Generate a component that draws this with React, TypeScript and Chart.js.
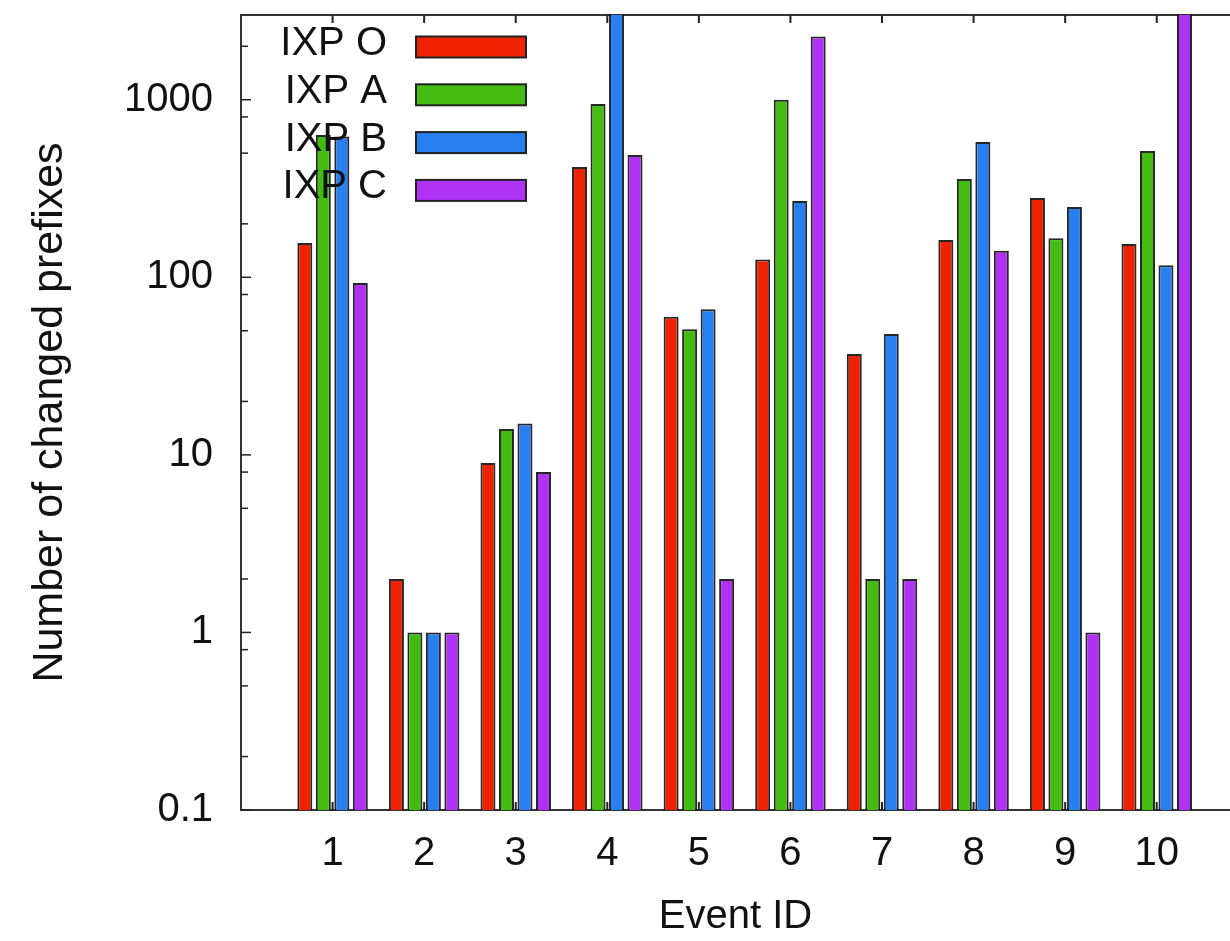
import React, { useEffect, useRef } from 'react';
import { Chart, registerables } from 'chart.js';

Chart.register(...registerables);

// ---- data ----
const eventIds = [1, 2, 3, 4, 5, 6, 7, 8, 9, 10];
const seriesLabels = ['IXP O', 'IXP A', 'IXP B', 'IXP C'];
const ixpO = [156, 2, 9, 418, 60, 126, 37, 162, 280, 154];
const ixpA = [633, 1, 14, 946, 51, 1000, 2, 358, 166, 515];
const ixpB = [620, 1, 15, 3200, 66, 269, 48, 578, 249, 117];
const ixpC = [93, 1, 8, 489, 2, 2272, 2, 141, 1, 3200];
const yMajorTicks = [0.1, 1, 10, 100, 1000];
const yMinorMultipliers = [2, 5, 8];
const yMin = 0.1;
const yMax = 3000;
const xMin = 0;
const xMax = 10.8;

const seriesValues = [ixpO, ixpA, ixpB, ixpC];
const seriesColors = ['#ee2200', '#44bb11', '#2a7ff0', '#b033f5'];

const FONT = '"Liberation Sans", Arial, Helvetica, sans-serif';

const framePlugin = {
  id: 'frameTicksLegend',
  afterDatasetsDraw(chart: any) {
    const { ctx, chartArea: a, scales } = chart;
    const ys = scales.y;
    const xs = scales.x;
    const line = (x1: number, y1: number, x2: number, y2: number) => {
      ctx.beginPath();
      ctx.moveTo(x1, y1);
      ctx.lineTo(x2, y2);
      ctx.stroke();
    };
    ctx.save();
    ctx.strokeStyle = '#222';
    ctx.lineWidth = 1.5;
    // left axis ticks (inward)
    for (const v of yMajorTicks) {
      const py = ys.getPixelForValue(v);
      line(a.left, py, a.left + 10, py);
      for (const m of yMinorMultipliers) {
        const mv = v * m;
        if (mv < yMax) {
          const pm = ys.getPixelForValue(mv);
          line(a.left, pm, a.left + 7, pm);
        }
      }
    }
    // bottom / top ticks at categories
    ctx.lineWidth = 2;
    for (const id of eventIds) {
      const px = xs.getPixelForValue(id);
      line(px, a.bottom, px, a.bottom - 8);
      line(px, a.top, px, a.top + 8);
    }
    // legend inside plot, text left of key box
    ctx.font = `40px ${FONT}`;
    ctx.textAlign = 'right';
    ctx.textBaseline = 'middle';
    chart.data.datasets.forEach((ds: any, i: number) => {
      const cy = a.top + 32 + i * 47.8;
      ctx.fillStyle = '#111';
      ctx.fillText(ds.label, a.left + 146, cy - 3);
      ctx.fillStyle = ds.backgroundColor;
      ctx.fillRect(a.left + 175, cy - 10.5, 110, 21);
      ctx.strokeStyle = '#222';
      ctx.lineWidth = 2;
      ctx.strokeRect(a.left + 175, cy - 10.5, 110, 21);
    });
    ctx.restore();
  },
};

export default function App() {
  const canvasRef = useRef<HTMLCanvasElement | null>(null);

  useEffect(() => {
    if (!canvasRef.current) return;
    const datasets = seriesLabels.map((label, s) => ({
      label,
      data: eventIds.map((id, i) => ({ x: id, y: seriesValues[s][i] })),
      backgroundColor: seriesColors[s],
      borderColor: 'rgba(15,15,15,0.9)',
      borderWidth: 2,
      categoryPercentage: 0.808,
      barPercentage: 0.81,
    }));

    const zeroPad = (s: any) => {
      s.paddingLeft = 0;
      s.paddingRight = 0;
      s.paddingTop = 0;
      s.paddingBottom = 0;
    };

    const chart = new Chart(canvasRef.current, {
      type: 'bar',
      data: { datasets },
      plugins: [framePlugin],
      options: {
        animation: false,
        responsive: true,
        maintainAspectRatio: false,
        layout: { padding: 0 },
        plugins: {
          legend: { display: false },
          tooltip: { enabled: false },
          title: { display: false },
        },
        scales: {
          x: {
            type: 'linear',
            position: 'bottom',
            offset: false,
            min: xMin,
            max: xMax,
            grid: { display: false, drawTicks: false, offset: false },
            border: { display: true, color: '#333', width: 2 },
            afterBuildTicks: (s: any) => {
              s.ticks = eventIds.map((v) => ({ value: v }));
            },
            ticks: {
              autoSkip: false,
              maxRotation: 0,
              padding: 20,
              color: '#111',
              font: { family: FONT, size: 40 },
              callback: (v: any) => String(v),
            },
            title: {
              display: true,
              text: 'Event ID',
              color: '#111',
              font: { family: FONT, size: 40 },
              padding: { top: 0, bottom: 0 },
            },
            afterFit: (s: any) => {
              s.height = 131;
              zeroPad(s);
            },
          },
          xTop: {
            type: 'linear',
            position: 'top',
            display: true,
            offset: false,
            min: xMin,
            max: xMax,
            grid: { display: false, drawTicks: false, offset: false },
            border: { display: true, color: '#333', width: 2 },
            ticks: { display: false },
            afterFit: (s: any) => {
              s.height = 15;
              zeroPad(s);
            },
          },
          y: {
            type: 'logarithmic',
            position: 'left',
            min: yMin,
            max: yMax,
            grid: { display: false, drawTicks: false },
            border: { display: true, color: '#333', width: 2 },
            afterBuildTicks: (s: any) => {
              s.ticks = yMajorTicks.map((v) => ({ value: v, major: true }));
            },
            ticks: {
              autoSkip: false,
              padding: 28,
              color: '#111',
              font: { family: FONT, size: 40 },
              callback: (v: any) => String(v),
            },
            title: {
              display: true,
              text: 'Number of changed prefixes',
              color: '#111',
              font: { family: FONT, size: 43 },
              padding: { top: 24, bottom: 0 },
            },
            afterFit: (s: any) => {
              s.width = 241;
              zeroPad(s);
            },
          },
        },
      } as any,
    });
    return () => chart.destroy();
  }, []);

  return (
    <div style={{ position: 'absolute', left: 0, top: 0, width: 1230, height: 941, background: '#fff' }}>
      <canvas ref={canvasRef} />
    </div>
  );
}
